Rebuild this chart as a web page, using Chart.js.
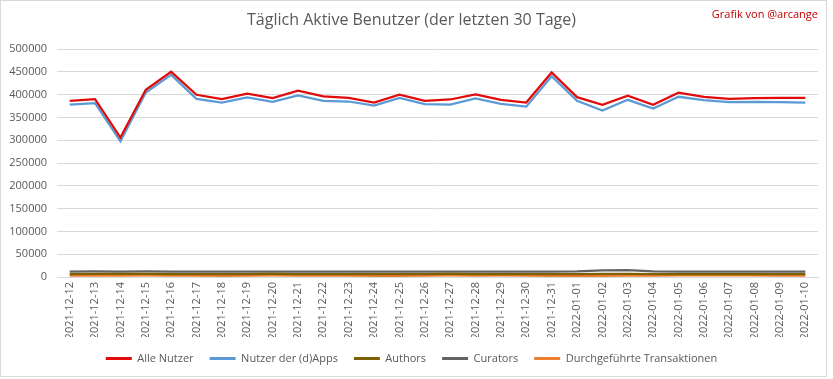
<!DOCTYPE html>
<html>
<head>
<meta charset="utf-8">
<script src="https://cdn.jsdelivr.net/npm/chart.js@4"></script>
<style>
html,body{margin:0;padding:0;background:#fff;}
#wrap{width:833px;height:379px;position:relative;}
</style>
</head>
<body>
<div id="wrap"><canvas id="c" width="833" height="379"></canvas></div>
<script>
const categories = ["2021-12-12","2021-12-13","2021-12-14","2021-12-15","2021-12-16","2021-12-17","2021-12-18","2021-12-19","2021-12-20","2021-12-21","2021-12-22","2021-12-23","2021-12-24","2021-12-25","2021-12-26","2021-12-27","2021-12-28","2021-12-29","2021-12-30","2021-12-31","2022-01-01","2022-01-02","2022-01-03","2022-01-04","2022-01-05","2022-01-06","2022-01-07","2022-01-08","2022-01-09","2022-01-10"];
const alleNutzer = [386700,390400,306000,411000,450400,400000,390400,402200,392600,408900,396300,393300,383000,400000,386700,389600,400700,388900,383000,448900,394800,377800,397800,377800,404400,395600,391100,392600,393300,393300];
const dappsNutzer = [378500,381500,297800,405000,443700,391000,383000,394000,384400,398500,386700,385200,376300,393300,379300,378500,391900,380000,374000,440700,386700,365200,388900,369600,395600,388100,383700,384400,383700,383000];
const authors = [6500,6800,6600,6700,6400,6300,6500,6200,6600,6400,6500,6300,6200,6100,6300,6600,6500,6300,6400,6200,6300,6600,6800,6500,6400,6300,6200,6300,6200,6300];
const curators = [12000,12100,12000,12100,12000,11900,11900,11900,12000,11900,11900,11800,11800,11800,11800,11900,11900,11800,11800,11900,12500,14800,14900,12400,12000,11900,11900,11900,11900,11900];
const transaktionen = [2800,3000,3200,3400,3200,3000,2600,2800,3400,3200,3000,2800,2700,2600,2800,3600,3200,3300,3000,2700,2600,2500,3200,3000,3400,3500,3600,3300,3200,3100];
const yTicks = [0,50000,100000,150000,200000,250000,300000,350000,400000,450000,500000];

const FONT = "'Open Sans', sans-serif";
const txt = '#595959';

const framePlugin = {
  id: 'frame',
  beforeDraw(chart) {
    const ctx = chart.ctx;
    ctx.save();
    ctx.fillStyle = '#fff';
    ctx.fillRect(0,0,chart.width,chart.height);
    ctx.restore();
  },
  afterDraw(chart) {
    const ctx = chart.ctx;
    ctx.save();
    ctx.strokeStyle = '#d9d9d9';
    ctx.lineWidth = 1;
    ctx.strokeRect(0.5,0.5,826,376);
    ctx.fillStyle = '#c00000';
    ctx.font = "11px " + FONT;
    ctx.textAlign = 'right';
    ctx.textBaseline = 'middle';
    ctx.fillText('Grafik von @arcange', 818, 15);
    ctx.restore();
  }
};

function ds(label, data, color, w) {
  return {label, data, borderColor: color, backgroundColor: color, borderWidth: w,
    pointRadius: 0, pointHoverRadius: 0, tension: 0, fill: false};
}

new Chart(document.getElementById('c'), {
  type: 'line',
  data: {
    labels: categories,
    datasets: [
      ds('Alle Nutzer', alleNutzer, '#e00b0b', 2.25),
      ds('Nutzer der (d)Apps', dappsNutzer, '#5b9bd5', 2.25),
      ds('Authors', authors, '#7f6000', 2.25),
      ds('Curators', curators, '#636363', 2.25),
      ds('Durchgeführte Transaktionen', transaktionen, '#ed7d31', 2.25)
    ]
  },
  options: {
    responsive: false,
    animation: false,
    devicePixelRatio: 1,
    layout: {padding: {left: 5, right: 15, top: 0, bottom: 5}},
    plugins: {
      tooltip: {enabled: false},
      title: {
        display: true,
        text: 'Täglich Aktive Benutzer (der letzten 30 Tage)',
        color: txt,
        font: {family: FONT, size: 16, weight: 'normal'},
        padding: {top: 11, bottom: 19}
      },
      legend: {
        position: 'bottom',
        labels: {
          color: txt,
          font: {family: FONT, size: 11},
          boxWidth: 26,
          boxHeight: 3,
          padding: 16,
          generateLabels(chart) {
            const items = Chart.defaults.plugins.legend.labels.generateLabels(chart);
            items.forEach(it => { it.lineWidth = 0; });
            return items;
          }
        }
      }
    },
    scales: {
      x: {
        offset: true,
        grid: {display: false, drawTicks: false},
        border: {display: true, color: '#d9d9d9'},
        ticks: {color: txt, font: {family: FONT, size: 11}, maxRotation: 90, minRotation: 90, autoSkip: false, padding: 5},
        afterFit(scale) { scale.height = 60; }
      },
      y: {
        min: 0, max: 500000,
        afterBuildTicks(scale) { scale.ticks = yTicks.map(v => ({value: v})); },
        grid: {color: '#d9d9d9', drawTicks: false},
        border: {display: false},
        ticks: {color: txt, font: {family: FONT, size: 11}, padding: 10, callback: v => String(v)},
        afterFit(scale) { scale.width = 52; }
      }
    }
  },
  plugins: [framePlugin]
});
</script>
</body>
</html>
